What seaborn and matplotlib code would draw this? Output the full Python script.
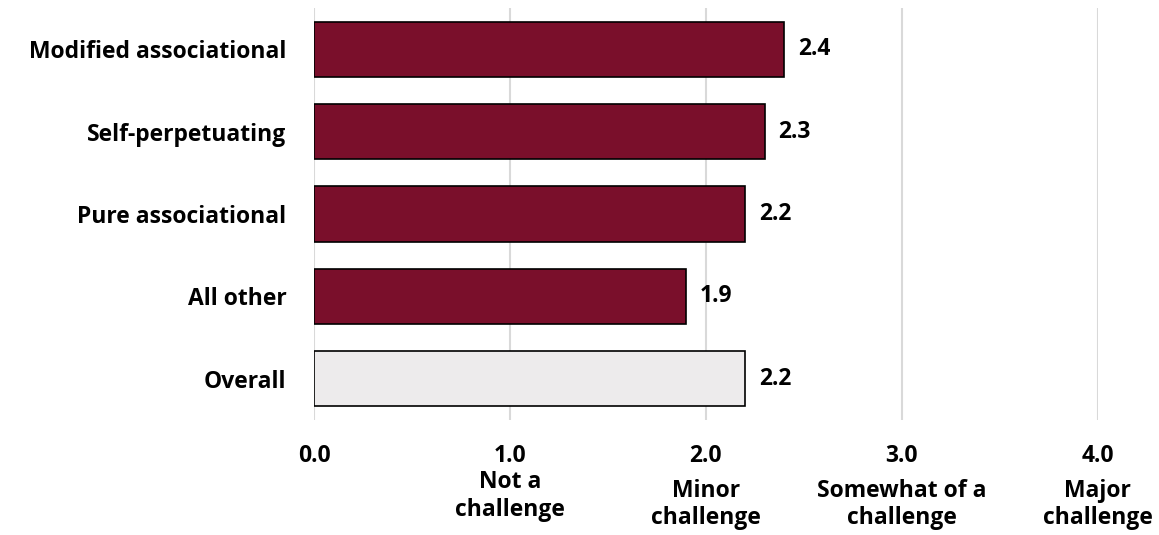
import matplotlib.pyplot as plt
import matplotlib.transforms as mtransforms
import pandas as pd
import seaborn as sns

sns.set_theme(style="white")
plt.rcParams["font.family"] = ["Open Sans", "DejaVu Sans"]
plt.rcParams["font.weight"] = "bold"

categories = ["Modified associational", "Self-perpetuating", "Pure associational", "All other", "Overall"]
scores = [2.4, 2.3, 2.2, 1.9, 2.2]
bar_colors = ["#7A0F2B", "#7A0F2B", "#7A0F2B", "#7A0F2B", "#EDEBEC"]
tick_values = [0, 1, 2, 3, 4]
tick_labels = ["0.0", "1.0", "2.0", "3.0", "4.0"]
scale_labels = ["", "Not a\nchallenge", "Minor\nchallenge", "Somewhat of a\nchallenge", "Major\nchallenge"]

df = pd.DataFrame({"group": categories, "score": scores})

fs = 16.5

fig = plt.figure(figsize=(11.59, 5.35), dpi=100)
ax = fig.add_axes([0.271, 0.215, 0.676, 0.77])

sns.barplot(
    data=df,
    x="score",
    y="group",
    hue="group",
    palette=bar_colors,
    saturation=1,
    legend=False,
    width=0.67,
    edgecolor="black",
    linewidth=1.2,
    ax=ax,
)

for c in ax.containers:
    ax.bar_label(c, labels=[f"{w.get_width():.1f}" for w in c], padding=10,
                 fontsize=fs, fontweight="bold", color="black")

ax.set_xlim(0, 4)
ax.set_ylim(4.5, -0.5)
ax.set_xticks(tick_values)
ax.set_xticklabels(tick_labels, fontsize=fs, fontweight="bold", color="black")
ax.tick_params(axis="x", length=0, pad=17)
ax.tick_params(axis="y", length=0, pad=20, labelsize=fs, labelcolor="black")
for lab in ax.get_yticklabels():
    lab.set_fontweight("bold")
ax.set_xlabel("")
ax.set_ylabel("")
for s in ax.spines.values():
    s.set_visible(False)

ax.set_axisbelow(True)
for v in tick_values:
    ax.axvline(v, color="#D9D9D9", linewidth=1.5, zorder=0)

trans = mtransforms.blended_transform_factory(ax.transData, ax.transAxes)
for v, txt in zip(tick_values, scale_labels):
    if not txt:
        continue
    y = -0.122 if v == 1 else -0.143
    ax.text(v, y, txt, transform=trans, ha="center", va="top", color="black",
            fontsize=fs, fontweight="bold", linespacing=1.2)

fig.savefig("out.png", dpi=100)
